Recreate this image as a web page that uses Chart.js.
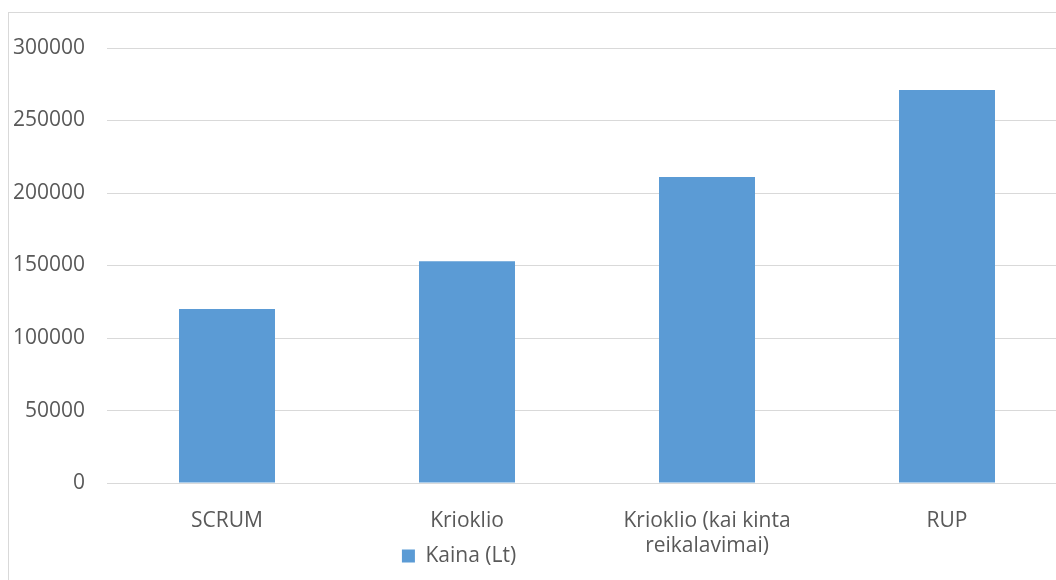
<!DOCTYPE html>
<html>
<head>
<meta charset="utf-8">
<script src="https://cdn.jsdelivr.net/npm/chart.js@4"></script>
<style>
  html, body { margin: 0; padding: 0; background: #fff; overflow: hidden; }
  #wrap {
    position: absolute;
    left: 8px;
    top: 12px;
    width: 1070px;
    height: 608px;
    border: 1px solid #d9d9d9;
  }
</style>
</head>
<body>
<div id="wrap"><canvas id="myChart"></canvas></div>
<script>
const categories = ['SCRUM', 'Krioklio', ['Krioklio (kai kinta', 'reikalavimai)'], 'RUP'];
const prices = [120000, 153000, 211000, 271000];
const seriesName = 'Kaina (Lt)';
const yTicks = [0, 50000, 100000, 150000, 200000, 250000, 300000];

const textColor = '#595959';
const gridColor = '#d9d9d9';
const barColor = '#5b9bd5';
const labelFont = { family: 'Open Sans', size: 21 };

// the legend box is placed by hand: left of centre, overlapping the axis band
const placeLegend = {
    id: 'placeLegend',
    afterLayout(chart) {
        const lg = chart.legend;
        if (!lg) return;
        const h = lg.height;
        lg.left = 0;
        lg.right = 900;
        lg.width = 900;
        lg.top = 528.5;
        lg.bottom = lg.top + h;
        lg.adjustHitBoxes();
    }
};

const ctx = document.getElementById('myChart').getContext('2d');

const myChart = new Chart(ctx, {
    type: 'bar',
    data: {
        labels: categories,
        datasets: [{
            label: seriesName,
            data: prices,
            backgroundColor: barColor,
            borderWidth: 0,
            barPercentage: 0.4,
            categoryPercentage: 1
        }]
    },
    plugins: [placeLegend],
    options: {
        responsive: true,
        maintainAspectRatio: false,
        animation: false,
        layout: {
            padding: { top: 35, left: 0, right: 12, bottom: 1 }
        },
        plugins: {
            tooltip: { enabled: false },
            legend: {
                position: 'bottom',
                labels: {
                    color: textColor,
                    font: labelFont,
                    boxWidth: 13,
                    boxHeight: 13,
                    padding: 4
                }
            }
        },
        scales: {
            x: {
                grid: { display: false, drawTicks: false },
                border: { display: false },
                ticks: {
                    color: textColor,
                    font: { family: 'Open Sans', size: 21, lineHeight: 1.19 },
                    padding: 26,
                    maxRotation: 0,
                    autoSkip: false
                }
            },
            y: {
                min: 0,
                max: 300000,
                afterFit(scale) { scale.width = 98; },
                afterBuildTicks(scale) { scale.ticks = yTicks.map(v => ({ value: v })); },
                grid: { color: gridColor, lineWidth: 1, drawTicks: false },
                border: { display: false },
                ticks: {
                    color: textColor,
                    font: labelFont,
                    padding: 22,
                    callback: v => String(v)
                }
            }
        }
    }
});
</script>
</body>
</html>
